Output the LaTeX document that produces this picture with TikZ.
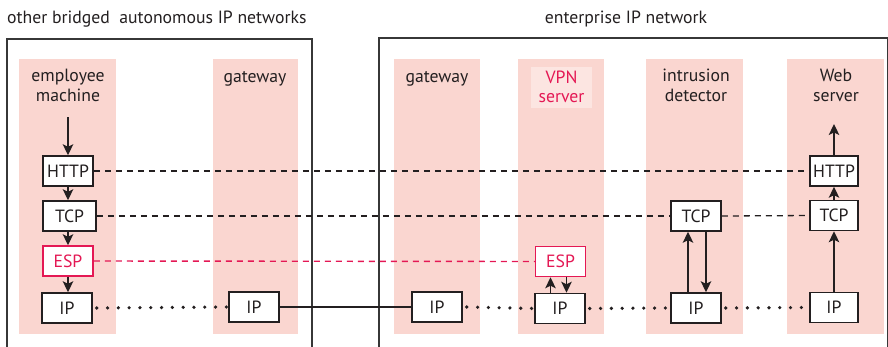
\documentclass[tikz,border=0pt]{standalone}
\usepackage{fontspec}
\setmainfont{PT Sans}
\usetikzlibrary{arrows.meta}
\definecolor{colpink}{RGB}{250,214,208}
\definecolor{lblpink}{RGB}{252,229,225}
\definecolor{vpnred}{RGB}{228,24,84}
\definecolor{ink}{RGB}{35,31,32}
\definecolor{framegray}{RGB}{55,55,55}
\tikzset{
  netframe/.style={draw=framegray, line width=1.3pt},
  column/.style={fill=colpink, draw=none},
  lbl/.style={align=center, text=ink, inner sep=0pt},
  layer/.style={draw=ink, line width=1.5pt, fill=white, text=ink,
    minimum width=50pt, minimum height=30pt, inner sep=0pt},
  esplayer/.style={layer, draw=vpnred, text=vpnred},
  arr/.style={draw=ink, line width=1.4pt, -{Stealth[length=11pt,width=10.5pt,inset=2.5pt]}},
  peerdash/.style={draw=ink, line width=1.3pt, dash pattern=on 6pt off 5pt},
  espdash/.style={draw=vpnred, line width=1.4pt, dash pattern=on 6pt off 5pt},
  ipdots/.style={draw=ink, line width=3.6pt, line cap=round, dash pattern=on 0pt off 10.8pt},
  link/.style={draw=ink, line width=1.3pt}
}
\begin{document}
\begin{tikzpicture}[x=1pt, y=-1pt, font=\fontsize{17.7}{19.5}\selectfont]
\useasboundingbox (0,0) rectangle (888,346);
\clip (0,0) rectangle (888,346);

% network boundaries
\node[lbl, anchor=west] (titleL) at (7,19) {other bridged\ \ autonomous IP networks};
\node[lbl] (titleR) at (626,19) {enterprise IP network};
\draw[netframe] (7,39) rectangle (312,370);
\draw[netframe] (379,38) rectangle (887.3,370);

% host columns
\fill[column] (19,59) rectangle (116,334);
\fill[column] (213,59) rectangle (298,334);
\fill[column] (394,59) rectangle (480,334);
\fill[column] (518,59) rectangle (604,334);
\fill[column] (646,59) rectangle (743,334);
\fill[column] (787,59) rectangle (884,334);
\fill[lblpink] (531,67) rectangle (592,108);

% host names
\node[lbl] (nEmp) at (68,85.5) {employee\\machine};
\node[lbl] (nGwL) at (255,79) {gateway};
\node[lbl] (nGwR) at (437,79) {gateway};
\node[lbl, text=vpnred] (nVpn) at (561.5,87) {VPN\\server};
\node[lbl] (nIds) at (696,85.5) {intrusion\\detector};
\node[lbl] (nWeb) at (836,85.5) {Web\\server};

% protocol stacks
\node[layer] (httpE) at (68,171) {HTTP};
\node[layer, minimum width=53pt] (tcpE) at (69.5,216) {TCP};
\node[esplayer] (espE) at (68,261) {ESP};
\node[layer] (ipE) at (67,308) {IP};

\node[layer] (ipGL) at (254,307) {IP};
\node[layer] (ipGR) at (437,307) {IP};

\node[esplayer] (espV) at (560.5,261.5) {ESP};
\node[layer] (ipV) at (560,308.5) {IP};

\node[layer] (tcpI) at (696,216) {TCP};
\node[layer] (ipI) at (696,308) {IP};

\node[layer, minimum width=48pt] (httpW) at (834,171) {HTTP};
\node[layer, minimum width=48pt] (tcpW) at (834,215.5) {TCP};
\node[layer, minimum width=48pt] (ipW) at (834,307.5) {IP};

% peer-to-peer conversations
\draw[peerdash] (httpE.east) -- (httpW.west);
\draw[peerdash] (tcpE.east) -- (tcpI.west);
\draw[peerdash] (tcpI.east) -- (tcpW.west);
\draw[espdash] (espE.east) -- (espV.west);
\draw[ipdots] ([xshift=4pt]ipE.east) -- ([xshift=-1pt]ipGL.west);
\draw[link] (ipGL.east) -- (ipGR.west);
\draw[ipdots] ([xshift=4pt]ipGR.east) -- ([xshift=-1pt]ipV.west);
\draw[ipdots] ([xshift=4pt]ipV.east) -- ([xshift=-1pt]ipI.west);
\draw[ipdots] ([xshift=4pt]ipI.east) -- ([xshift=-1pt]ipW.west);

% packet flow through the stacks
\coordinate (inE) at (68,117);
\coordinate (outW) at (834,124);
\draw[arr] (inE) -- (httpE.north);
\draw[arr] (httpE.south) -- (httpE.south |- tcpE.north);
\draw[arr] (httpE.south |- tcpE.south) -- (httpE.south |- espE.north);
\draw[arr] (espE.south) -- (espE.south |- ipE.north);

\draw[arr] ([xshift=-9.5pt]ipV.north) -- ([xshift=-9.5pt]ipV.north |- espV.south);
\draw[arr] ([xshift=6.5pt]ipV.north |- espV.south) -- ([xshift=6.5pt]ipV.north);

\draw[arr] ([xshift=-8pt]ipI.north) -- ([xshift=-8pt]tcpI.south);
\draw[arr] ([xshift=10pt]tcpI.south) -- ([xshift=10pt]ipI.north);

\draw[arr] (ipW.north) -- (tcpW.south);
\draw[arr] (tcpW.north) -- (httpW.south);
\draw[arr] (httpW.north) -- (outW);
\end{tikzpicture}
\end{document}
